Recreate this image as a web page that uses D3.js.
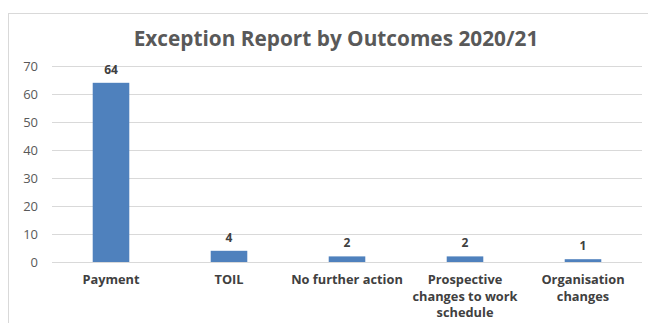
<!DOCTYPE html>
<html><head><meta charset="utf-8">
<script src="https://cdn.jsdelivr.net/npm/d3@7"></script>
<style>body{margin:0;background:#fff}svg{display:block}</style>
</head><body>
<svg id="c" width="648" height="323"></svg>
<script>
const categories = [["Payment"],["TOIL"],["No further action"],["Prospective","changes to work","schedule"],["Organisation","changes"]];
const values = [64,4,2,2,1];
const yTicks = [0,10,20,30,40,50,60,70];
const title = "Exception Report by Outcomes 2020/21";

(function(){
const svg = d3.select("#c");
const font = "'Open Sans', 'Liberation Sans', sans-serif";
svg.append("rect").attr("x",8.5).attr("y",13.5).attr("width",660).attr("height",330)
  .attr("fill","#fff").attr("stroke","#d9d9d9");

const mL = 52, mR = 642, mT = 66, mB = 262;
const x = d3.scaleBand().domain(d3.range(categories.length)).range([mL,mR]).paddingInner(0.69).paddingOuter(0.345);
const y = d3.scaleLinear().domain([0,70]).range([mB,mT]);

svg.append("text").attr("x",336).attr("y",46).attr("text-anchor","middle")
  .attr("font-family",font).attr("font-weight","bold").attr("font-size",20.8).attr("fill","#595959").text(title);

const ax = svg.append("g").attr("transform",`translate(${mL},0)`)
  .call(d3.axisLeft(y).tickValues(yTicks).tickSize(-(mR-mL)).tickPadding(14));
ax.select(".domain").remove();
ax.selectAll(".tick line").attr("stroke","#d9d9d9");
ax.selectAll(".tick text").attr("font-family",font).attr("font-size",13).attr("fill","#595959");

svg.selectAll("rect.bar").data(values).join("rect").attr("class","bar")
  .attr("x",(d,i)=>x(i)).attr("width",x.bandwidth())
  .attr("y",d=>y(d)).attr("height",d=>y(0)-y(d)).attr("fill","#4f81bd");

svg.selectAll("text.lbl").data(values).join("text").attr("class","lbl")
  .attr("x",(d,i)=>x(i)+x.bandwidth()/2).attr("y",d=>y(d)-9)
  .attr("text-anchor","middle").attr("font-family",font).attr("font-weight","bold")
  .attr("font-size",12).attr("fill","#404040").text(d=>d);

const cg = svg.selectAll("g.cat").data(categories).join("g").attr("class","cat")
  .attr("transform",(d,i)=>`translate(${x(i)+x.bandwidth()/2},284)`);
cg.selectAll("text").data(d=>d).join("text").attr("x",0).attr("y",(d,j)=>j*16.5)
  .attr("text-anchor","middle").attr("font-family",font).attr("font-weight","bold")
  .attr("font-size",12.8).attr("fill","#404040").text(d=>d);
})();
</script>
</body></html>
